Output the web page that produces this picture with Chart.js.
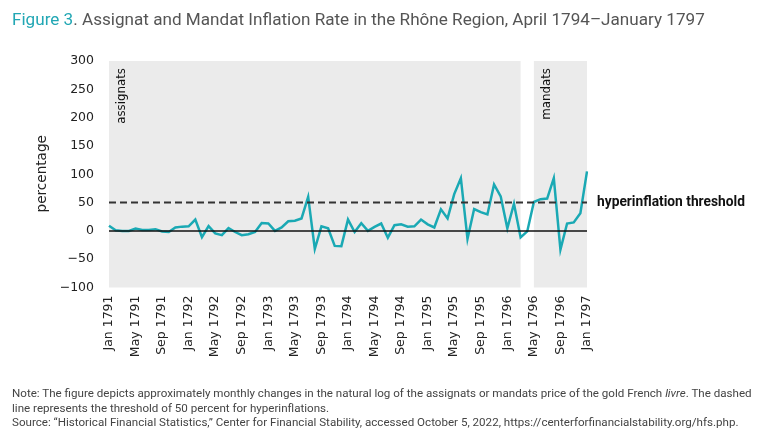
<!DOCTYPE html>
<html>
<head>
<meta charset="utf-8">
<script src="https://cdn.jsdelivr.net/npm/chart.js@4.4.1/dist/chart.umd.min.js"></script>
<style>
  html, body { margin: 0; padding: 0; background: #fff; }
  #wrap { position: relative; width: 765px; height: 438px; overflow: hidden; }
  #chart { position: absolute; left: 0; top: 0; }
  #title { position: absolute; left: 12px; top: 9px; font-family: Roboto, sans-serif; font-size: 16px;
           color: #555; white-space: nowrap; line-height: 20px; }
  #title .fig { color: #22a7b4; }
  #note { position: absolute; left: 12px; top: 386px; font-family: Roboto, sans-serif; font-size: 11px;
          color: #444; white-space: nowrap; line-height: 14.5px; }
</style>
</head>
<body>
<div id="wrap">
  <canvas id="chart" width="765" height="438"></canvas>
  <div id="title"><span class="fig">Figure 3</span>. Assignat and Mandat Inflation Rate in the Rhône Region, April 1794–January 1797</div>
  <div id="note">
    <span id="noteLine1">Note: The figure depicts approximately monthly changes in the natural log of the assignats or mandats price of the gold French <i>livre</i>. The dashed</span><br>
    line represents the threshold of 50 percent for hyperinflations.<br>
    Source: “Historical Financial Statistics,” Center for Financial Stability, accessed October 5, 2022, https://centerforfinancialstability.org/hfs.php.
  </div>
</div>
<script>
// 월 라벨 (Jan 1791 ~ Jan 1797)
const monthNames = ['Jan', 'Feb', 'Mar', 'Apr', 'May', 'Jun', 'Jul', 'Aug', 'Sep', 'Oct', 'Nov', 'Dec'];
const firstYear = 1791;
const lastYear = 1797;

// 월별 인플레이션율 (%)
const inflation = [
    9, 1, 0, 0, 4, 1.5, 1.5, 3, -1, -2, 6, 7.5,            // 1791
    8, 20, -11, 8.5, -4.5, -7.5, 5, -2, -7.5, -6, -2, 14,  // 1792
    13, 0, 6, 17, 18, 22, 60, -32, 8, 4.5, -26.5, -27,     // 1793
    20, -2, 13.5, 0, 7, 13, -12, 10, 11.5, 7.5, 8, 20,     // 1794
    11.5, 6, 38, 22, 65, 93, -14, 38.5, 33, 29, 82, 61,    // 1795
    4.5, 48, -11.5, -1, 51, 56, 57, 93, -33, 13, 15, 31,   // 1796
    105                                                    // 1797
];

// 통화 구간 (음영)
const periodNames = ['assignats', 'mandats'];
const periodStart = ['Jan 1791', 'May 1796'];
const periodEnd = ['Mar 1796', 'Jan 1797'];

const threshold = 50;
const thresholdLabel = 'hyperinflation threshold';

const yTicks = [-100, -50, 0, 50, 100, 150, 200, 250, 300];

const labels = [];
for (let y = firstYear; y <= lastYear; y++) {
    monthNames.forEach(m => labels.push(m + ' ' + y));
}
labels.length = inflation.length;

const teal = '#1aa9b4';

// 텍스트 폭에 맞춰 폰트 크기 계산
function fitFont(ctx, text, weight, family, width) {
    ctx.font = weight + ' 20px ' + family;
    const size = 20 * width / ctx.measureText(text).width;
    return weight + ' ' + size.toFixed(2) + 'px ' + family;
}

const overlay = {
    id: 'overlay',
    beforeDatasetsDraw(chart) {
        const { ctx, chartArea, scales } = chart;
        ctx.save();
        ctx.fillStyle = '#ebebeb';
        periodNames.forEach((name, i) => {
            const x1 = scales.x.getPixelForValue(labels.indexOf(periodStart[i]));
            const x2 = scales.x.getPixelForValue(labels.indexOf(periodEnd[i]));
            ctx.fillRect(x1, chartArea.top, x2 - x1, chartArea.bottom - chartArea.top);
        });
        ctx.restore();
    },
    afterDatasetsDraw(chart) {
        const { ctx, chartArea, scales } = chart;
        ctx.save();
        // 0 기준선
        const y0 = scales.y.getPixelForValue(0);
        ctx.strokeStyle = '#111';
        ctx.lineWidth = 1.5;
        ctx.beginPath();
        ctx.moveTo(chartArea.left, y0);
        ctx.lineTo(chartArea.right, y0);
        ctx.stroke();

        // 하이퍼인플레이션 기준선
        const yt = scales.y.getPixelForValue(threshold);
        ctx.strokeStyle = '#333';
        ctx.lineWidth = 2;
        ctx.setLineDash([7, 4]);
        ctx.beginPath();
        ctx.moveTo(chartArea.left, yt);
        ctx.lineTo(chartArea.right, yt);
        ctx.stroke();
        ctx.setLineDash([]);

        ctx.fillStyle = '#111';
        ctx.font = fitFont(ctx, thresholdLabel, 'bold', 'Roboto', 148);
        ctx.textAlign = 'left';
        ctx.textBaseline = 'middle';
        ctx.fillText(thresholdLabel, chartArea.right + 10, yt);

        // 구간 이름 (세로)
        ctx.font = '11.8px "DejaVu Sans"';
        ctx.textAlign = 'right';
        periodNames.forEach((name, i) => {
            const x1 = scales.x.getPixelForValue(labels.indexOf(periodStart[i]));
            ctx.save();
            ctx.translate(x1 + 13, chartArea.top + 7);
            ctx.rotate(-Math.PI / 2);
            ctx.fillText(name, 0, 0);
            ctx.restore();
        });

        // y축 제목
        ctx.font = '13.6px "DejaVu Sans"';
        ctx.fillStyle = '#222';
        ctx.textAlign = 'center';
        ctx.save();
        ctx.translate(42, (chartArea.top + chartArea.bottom) / 2 - 0.5);
        ctx.rotate(-Math.PI / 2);
        ctx.fillText('percentage', 0, 0);
        ctx.restore();
        ctx.restore();
    }
};

new Chart(document.getElementById('chart').getContext('2d'), {
    type: 'line',
    data: {
        labels: labels,
        datasets: [{
            label: 'inflation',
            data: inflation,
            borderColor: teal,
            borderWidth: 2.5,
            pointRadius: 0,
            tension: 0,
            fill: false
        }]
    },
    options: {
        responsive: false,
        animation: false,
        layout: { padding: { left: 0, right: 178, top: 61, bottom: 0 } },
        plugins: {
            legend: { display: false },
            tooltip: { enabled: false }
        },
        scales: {
            x: {
                grid: { display: false, drawTicks: false },
                border: { display: false },
                afterFit(scale) { scale.height = 150.5; },
                ticks: {
                    autoSkip: false,
                    minRotation: 90,
                    maxRotation: 90,
                    padding: 8,
                    color: '#222',
                    font: { family: 'DejaVu Sans', size: 12.5 },
                    callback: (v, i) => (i % 4 === 0 ? labels[i] : '')
                }
            },
            y: {
                min: yTicks[0],
                max: yTicks[yTicks.length - 1],
                grid: { display: false, drawTicks: false },
                border: { display: false },
                afterFit(scale) { scale.width = 109; },
                afterBuildTicks(scale) { scale.ticks = yTicks.map(v => ({ value: v })); },
                ticks: {
                    padding: 15,
                    color: '#222',
                    font: { family: 'DejaVu Sans', size: 12.5 },
                    callback: v => (v < 0 ? '\u2212' + Math.abs(v) : String(v))
                }
            }
        }
    },
    plugins: [overlay]
});

// 제목과 주석 폭 맞추기
function fitDiv(el, width) {
    const w = el.getBoundingClientRect().width;
    const size = parseFloat(getComputedStyle(el).fontSize);
    el.style.fontSize = (size * width / w).toFixed(2) + 'px';
}
fitDiv(document.getElementById('title'), 693);
const note = document.getElementById('note');
const line1 = document.getElementById('noteLine1');
const sz = parseFloat(getComputedStyle(note).fontSize);
note.style.fontSize = (sz * 740 / line1.getBoundingClientRect().width).toFixed(2) + 'px';
</script>
</body>
</html>
